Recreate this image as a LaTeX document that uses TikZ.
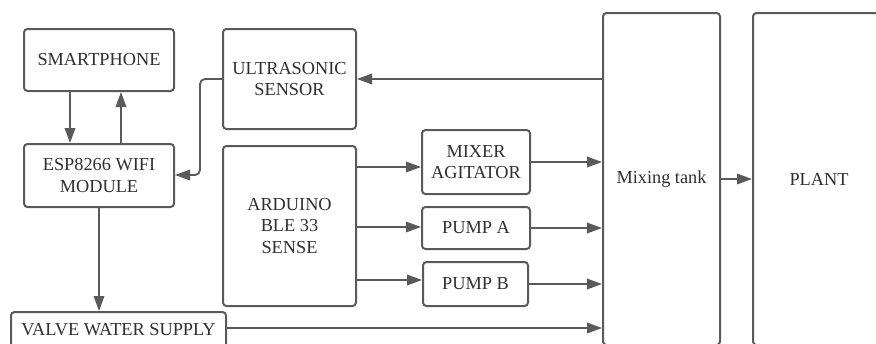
\documentclass[tikz,border=0pt]{standalone}
\usepackage{fontspec}
\setmainfont{Liberation Serif}
\usetikzlibrary{arrows.meta}
\definecolor{linegray}{HTML}{5A5A5A}
\definecolor{textgray}{HTML}{303030}
\begin{document}
\begin{tikzpicture}[x=1pt,y=-1pt,
  box/.style={draw=linegray, line width=2pt, rounded corners=3.5pt, fill=white,
    align=center, text=textgray, inner sep=0pt,
    font=\fontsize{18.3}{21.5}\selectfont},
  arr/.style={draw=linegray, line width=1.8pt,
    -{Triangle[length=15pt,width=10.5pt]}}]
\clip (0,0) rectangle (876,343);
\fill[white] (0,0) rectangle (876,343);

% blocks
\node[box, minimum width=150, minimum height=62] (sp)    at (99,60)      {SMARTPHONE};
\node[box, minimum width=150, minimum height=63] (esp)   at (99,175.5)   {ESP8266 WIFI\\MODULE};
\node[box, minimum width=133, minimum height=100] (us)   at (289.5,79)   {ULTRASONIC\\SENSOR};
\node[box, minimum width=133, minimum height=160] (ard)  at (289.5,226)  {ARDUINO\\BLE 33\\SENSE};
\node[box, minimum width=215, minimum height=36] (valve) at (118.5,330)  {VALVE WATER SUPPLY};
\node[box, minimum width=108, minimum height=64] (mix)   at (476,162)    {MIXER\\AGITATOR};
\node[box, minimum width=108, minimum height=42] (pa)    at (476,228)    {PUMP A};
\node[box, minimum width=105, minimum height=44] (pb)    at (475.5,284)  {PUMP B};
\node[box, minimum width=117, minimum height=332] (tank) at (661.5,179)  {Mixing tank};
\node[box, minimum width=132, minimum height=332] (plant) at (819,179)   {PLANT};

% smartphone <-> wifi module
\draw[arr] (sp.south -| 70,0) -- (esp.north -| 70,0);
\draw[arr] (esp.north -| 121,0) -- (sp.south -| 121,0);

% sensor feedback
\draw[arr, rounded corners=5pt] (us.west) -| (200,175) -- (esp.east |- 0,175);
\draw[arr] (tank.west |- us.east) -- (us.east);

% controller outputs
\draw[arr] (ard.east |- 0,167) -- (mix.west |- 0,167);
\draw[arr] (ard.east |- 0,227) -- (pa.west |- 0,227);
\draw[arr] (ard.east |- 0,280) -- (pb.west |- 0,280);

% feeds into the tank
\draw[arr] (mix.east) -- (tank.west |- mix.east);
\draw[arr] (pa.east) -- (tank.west |- pa.east);
\draw[arr] (pb.east) -- (tank.west |- pb.east);
\draw[arr] (valve.east |- 0,328) -- (tank.west |- 0,328);

% wifi module to valve, tank to plant
\draw[arr] (esp.south) -- (valve.north -| esp.south);
\draw[arr] (tank.east) -- (plant.west);
\end{tikzpicture}
\end{document}
